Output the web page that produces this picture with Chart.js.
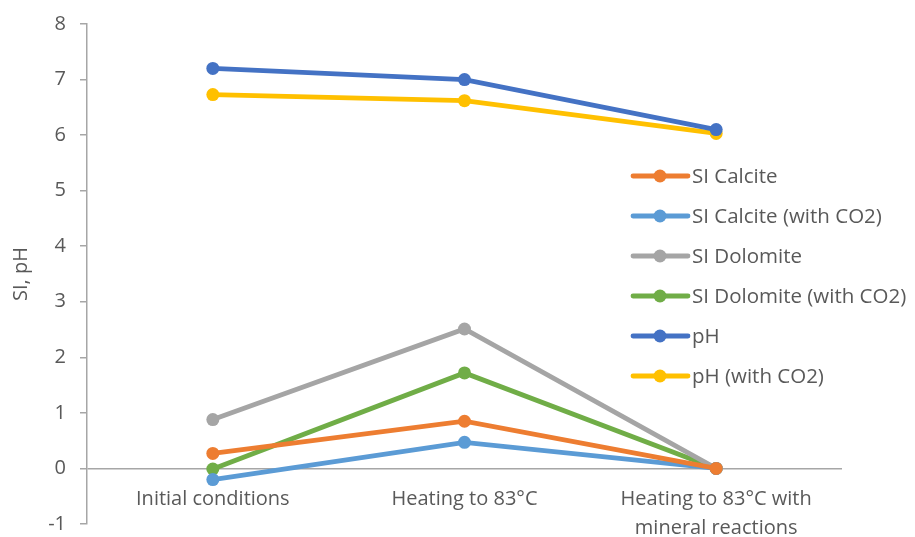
<!DOCTYPE html>
<html>
<head>
<meta charset="utf-8">
<script src="https://cdn.jsdelivr.net/npm/chart.js@4.4.1/dist/chart.umd.min.js"></script>
<style>
  html, body { margin: 0; padding: 0; background: #ffffff; }
  #wrap { width: 915px; height: 537px; position: relative; }
</style>
</head>
<body>
<div id="wrap"><canvas id="c" width="915" height="537"></canvas></div>
<script>
const categories = ["Initial conditions", "Heating to 83°C", ["Heating to 83°C with", "mineral reactions"]];
const siCalcite = [0.27, 0.85, 0];
const siCalciteCO2 = [-0.20, 0.47, 0];
const siDolomite = [0.88, 2.51, 0];
const siDolomiteCO2 = [-0.01, 1.72, 0];
const pH = [7.20, 7.00, 6.10];
const pHCO2 = [6.73, 6.62, 6.03];
const seriesNames = ["SI Calcite", "SI Calcite (with CO2)", "SI Dolomite", "SI Dolomite (with CO2)", "pH", "pH (with CO2)"];
const seriesColors = ["#ED7D31", "#5B9BD5", "#A5A5A5", "#70AD47", "#4472C4", "#FFC000"];
const seriesValues = [siCalcite, siCalciteCO2, siDolomite, siDolomiteCO2, pH, pHCO2];
const yMin = -1, yMax = 8, yStep = 1;

const FONT = "'Open Sans', sans-serif";
const TEXT = "#595959";
const AXIS = "#A6A6A6";

const datasets = seriesNames.map((n, i) => ({
  label: n,
  data: seriesValues[i],
  borderColor: seriesColors[i],
  backgroundColor: seriesColors[i],
  borderWidth: 4.8,
  pointRadius: 6.5,
  pointHoverRadius: 6.5,
  pointBorderWidth: 0,
  tension: 0,
  clip: false
}));

const legendPlugin = {
  id: 'customLegend',
  afterDraw(chart) {
    const ctx = chart.ctx;
    const x0 = 633, x1 = 688, cx = 660, tx = 692, y0 = 176, dy = 40;
    ctx.save();
    ctx.font = "20.5px " + FONT;
    ctx.textBaseline = 'middle';
    ctx.textAlign = 'left';
    chart.data.datasets.forEach((ds, i) => {
      const y = y0 + i * dy;
      ctx.strokeStyle = ds.borderColor;
      ctx.lineWidth = 4.8;
      ctx.lineCap = 'round';
      ctx.beginPath(); ctx.moveTo(x0, y); ctx.lineTo(x1, y); ctx.stroke();
      ctx.fillStyle = ds.borderColor;
      ctx.beginPath(); ctx.arc(cx, y, 6.5, 0, Math.PI * 2); ctx.fill();
      ctx.fillStyle = TEXT;
      ctx.fillText(ds.label, tx, y + 1);
    });
    ctx.restore();
  }
};

new Chart(document.getElementById('c'), {
  type: 'line',
  data: { labels: categories, datasets: datasets },
  plugins: [legendPlugin],
  options: {
    responsive: false,
    animation: false,
    events: [],
    layout: { padding: { left: 0, right: 73, top: 24, bottom: 13 } },
    plugins: { legend: { display: false }, tooltip: { enabled: false } },
    scales: {
      x: {
        type: 'category',
        offset: true,
        position: { y: 0 },
        border: { display: false },
        grid: { display: false, drawTicks: false },
        ticks: { color: TEXT, font: { family: FONT, size: 20, lineHeight: 1.45 }, padding: 16, maxRotation: 0, autoSkip: false }
      },
      y: {
        min: yMin, max: yMax,
        afterFit(scale) { scale.width = 87; scale.paddingTop = 0; scale.paddingBottom = 0; },
        border: { display: true, color: AXIS, width: 1.5 },
        grid: {
          drawOnChartArea: true,
          color: (c) => (c.tick && c.tick.value === 0 ? AXIS : 'rgba(0,0,0,0)'),
          lineWidth: 1.5,
          tickColor: AXIS,
          tickLength: 7
        },
        ticks: { stepSize: yStep, color: TEXT, font: { family: FONT, size: 20 }, padding: 14 },
        title: { display: true, text: 'SI, pH', color: TEXT, font: { family: FONT, size: 20 }, padding: { top: 9, bottom: 4 } }
      }
    }
  }
});
</script>
</body>
</html>
